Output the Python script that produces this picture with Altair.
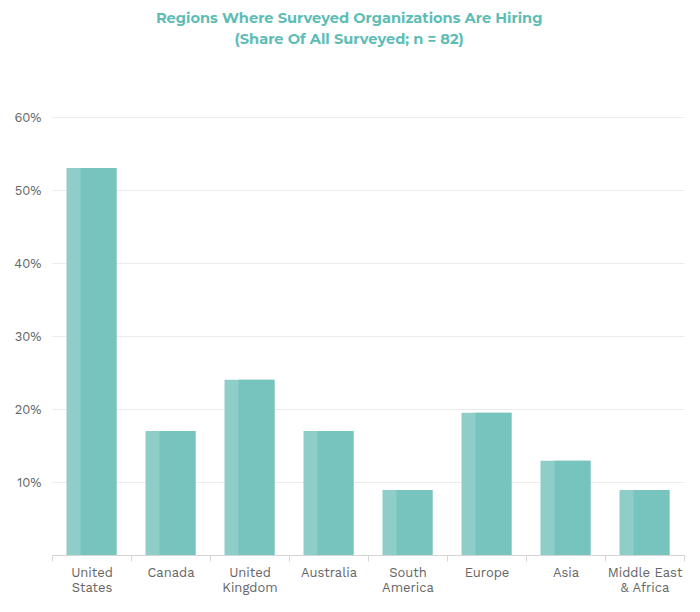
import altair as alt
import pandas as pd
import json

categories = ["United States", "Canada", "United Kingdom", "Australia",
              "South America", "Europe", "Asia", "Middle East & Africa"]
label_lines = [["United", "States"], ["Canada"], ["United", "Kingdom"], ["Australia"],
               ["South", "America"], ["Europe"], ["Asia"], ["Middle East", "& Africa"]]
shares = [0.53, 0.17, 0.24, 0.17, 0.089, 0.195, 0.129, 0.089]
y_ticks = [0.1, 0.2, 0.3, 0.4, 0.5, 0.6]

df = pd.DataFrame({"region": categories, "share": shares})

label_map = json.dumps(dict(zip(categories, label_lines)))
label_expr = f"{label_map}[datum.value]"

x_enc = alt.X("region:N", sort=categories, title=None,
              scale=alt.Scale(paddingInner=0.0, paddingOuter=0.0),
              axis=alt.Axis(labelExpr=label_expr, labelAngle=0, labelFont="Work Sans, Lato",
                            labelFontSize=13, labelColor="#666666", labelPadding=5,
                            labelLineHeight=15, domainColor="#d6d6d6", tickColor="#d6d6d6",
                            tickSize=6, tickBand="extent", grid=False, labelBaseline="top"))
y_enc = alt.Y("share:Q", title=None,
              scale=alt.Scale(domain=[0, 0.6], nice=False),
              axis=alt.Axis(values=y_ticks, format=".0%", domain=False, ticks=False,
                            gridColor="#ebebeb", labelFont="Work Sans, Lato", labelFontSize=13,
                            labelColor="#666666", labelPadding=11,
                            minExtent=33, maxExtent=33))

light = alt.Chart(df).mark_bar(size=50, color="#8fcdc8").encode(x=x_enc, y=y_enc)
dark = alt.Chart(df).mark_bar(size=36, xOffset=7, color="#77c3bd").encode(x=x_enc, y=y_enc)

chart = (light + dark).properties(
    width=632, height=438,
    padding={"top": 3, "left": 5, "right": 5, "bottom": 5},
    title=alt.TitleParams(
        ["Regions Where Surveyed Organizations Are Hiring", "(Share Of All Surveyed; n = 82)"],
        font="Montserrat, Open Sans", fontSize=14.6, fontWeight="bold", color="#5dbdb5",
        anchor="middle", frame="bounds", lineHeight=21, offset=64),
).configure_view(stroke=None)

chart.save("out.html", embed_options={"renderer": "svg", "actions": False})
